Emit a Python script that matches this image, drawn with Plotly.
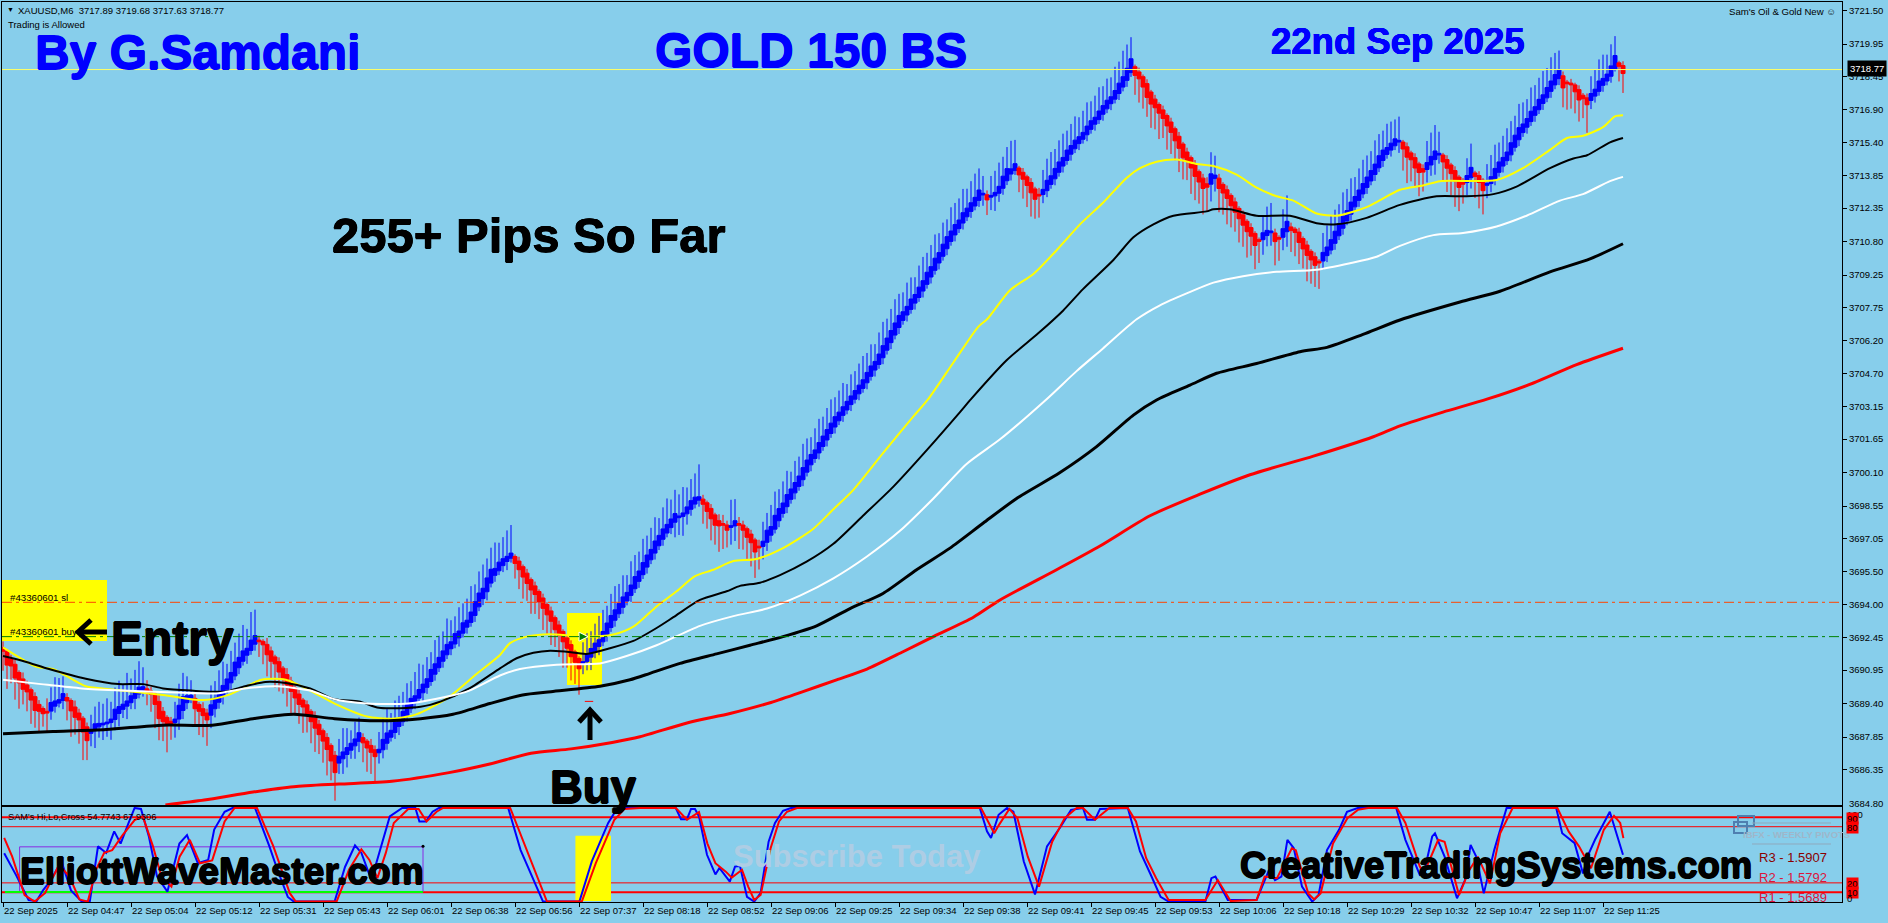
import plotly.graph_objects as go

# price of every bar, one row per tick interval (16 bars)
closes = [
    3691.9,3691.5,3691.3,3690.9,3690.6,3690.3,3690.1,3689.8,3689.4,3689.2,3689.05,3689.0,3689.25,3689.4,3689.5,3689.7,
    3689.6,3689.3,3689.0,3688.8,3688.4,3688.0,3688.1,3688.3,3688.4,3688.45,3688.5,3688.6,3688.9,3689.1,3689.25,3689.4,
    3689.6,3689.8,3690.0,3690.1,3690.0,3689.9,3689.6,3689.1,3688.8,3688.6,3688.5,3688.6,3689.0,3689.4,3689.6,3689.7,
    3689.4,3689.2,3689.0,3688.8,3689.1,3689.4,3689.7,3690.0,3690.3,3690.6,3691.0,3691.3,3691.6,3691.8,3692.1,3692.35,
    3692.3,3692.2,3691.9,3691.6,3691.4,3691.1,3690.8,3690.5,3690.2,3689.9,3689.6,3689.4,3689.1,3688.8,3688.5,3688.2,
    3687.9,3687.55,3687.1,3686.6,3686.8,3687.0,3687.2,3687.4,3687.6,3687.85,3687.7,3687.5,3687.3,3687.1,3687.2,3687.5,
    3687.8,3688.0,3688.3,3688.5,3688.8,3689.1,3689.4,3689.6,3689.85,3690.1,3690.35,3690.7,3691.0,3691.3,3691.6,3691.9,
    3692.1,3692.4,3692.6,3692.9,3693.1,3693.4,3693.8,3694.2,3694.5,3694.9,3695.3,3695.5,3695.75,3695.95,3696.1,3696.25,
    3696.05,3695.8,3695.5,3695.2,3694.9,3694.65,3694.35,3694.05,3693.75,3693.45,3693.1,3692.8,3692.5,3692.2,3691.85,3691.55,
    3691.25,3691.3,3691.5,3691.75,3692.0,3692.2,3692.5,3692.85,3693.2,3693.5,3693.8,3694.1,3694.35,3694.65,3695.0,3695.3,
    3695.65,3696.0,3696.3,3696.65,3696.95,3697.25,3697.5,3697.75,3698.0,3698.05,3698.15,3698.35,3698.6,3698.8,3698.9,3698.75,
    3698.5,3698.2,3697.9,3697.75,3697.7,3697.55,3697.6,3697.75,3697.7,3697.55,3697.3,3697.05,3696.7,3696.65,3696.8,3697.15,
    3697.4,3697.8,3698.15,3698.45,3698.8,3699.1,3699.4,3699.7,3700.05,3700.4,3700.7,3700.95,3701.25,3701.55,3701.85,3702.15,
    3702.45,3702.7,3702.95,3703.2,3703.45,3703.7,3703.95,3704.2,3704.5,3704.8,3705.05,3705.35,3705.7,3706.05,3706.4,3706.75,
    3707.1,3707.35,3707.6,3707.9,3708.15,3708.45,3708.75,3709.1,3709.4,3709.75,3710.05,3710.4,3710.75,3711.05,3711.35,3711.6,
    3711.9,3712.15,3712.4,3712.65,3712.95,3713.0,3712.85,3712.9,3713.0,3713.2,3713.55,3713.9,3714.05,3714.25,3714.05,3713.85,
    3713.6,3713.3,3713.0,3712.95,3713.1,3713.4,3713.65,3713.95,3714.25,3714.5,3714.8,3715.05,3715.3,3715.5,3715.7,3715.95,
    3716.2,3716.4,3716.65,3716.9,3717.15,3717.35,3717.6,3717.9,3718.2,3718.55,3718.95,3718.7,3718.5,3718.2,3717.8,3717.45,
    3717.2,3716.95,3716.7,3716.4,3716.1,3715.75,3715.4,3715.0,3714.75,3714.45,3714.1,3713.8,3713.5,3713.4,3713.7,3713.8,
    3713.5,3713.25,3713.0,3712.7,3712.4,3712.1,3711.8,3711.5,3711.25,3710.9,3710.85,3711.05,3711.2,3711.25,3711.0,3710.95,
    3711.2,3711.5,3711.4,3711.3,3711.0,3710.7,3710.4,3710.15,3709.9,3709.85,3710.1,3710.35,3710.65,3711.0,3711.35,3711.7,
    3712.0,3712.35,3712.65,3712.95,3713.25,3713.55,3713.85,3714.15,3714.5,3714.8,3715.0,3715.2,3715.4,3715.45,3715.25,3714.95,
    3714.75,3714.45,3714.2,3714.1,3714.3,3714.55,3714.8,3714.85,3714.65,3714.4,3714.15,3713.85,3713.55,3713.5,3713.7,3714.0,
    3713.9,3713.7,3713.4,3713.45,3713.65,3713.95,3714.25,3714.5,3714.75,3715.1,3715.45,3715.8,3716.05,3716.3,3716.6,3716.85,
    3717.15,3717.4,3717.7,3718.0,3718.3,3718.55,3718.2,3718.15,3718.1,3717.9,3717.6,3717.5,3717.3,3717.5,3717.7,3718.0,
    3718.2,3718.4,3718.7,3719.1,3719.0,3718.77,
]

# wick in the bar's direction (up on blue, down on red)
wick_long = [
    0.9,1.1,0.8,1.0,1.2,0.7,0.9,1.1,0.8,1.0,0.6,0.9,0.7,1.1,1.0,0.8,
    0.9,1.2,0.8,1.1,1.3,0.9,0.7,0.8,1.0,0.9,1.1,0.8,1.0,1.2,0.9,1.3,
    0.8,1.0,1.2,0.9,0.6,0.8,1.1,1.0,0.9,1.3,0.7,0.8,1.0,1.1,0.9,0.7,
    0.8,1.1,1.0,1.2,0.9,0.8,1.0,1.1,0.7,1.0,0.9,1.1,1.2,0.9,1.3,1.2,
    0.7,0.9,1.0,0.8,1.1,0.9,0.7,1.0,1.1,0.8,0.9,1.2,0.8,1.0,1.1,0.9,
    1.0,1.2,0.9,1.3,0.8,1.1,0.9,0.6,0.8,0.7,0.9,1.1,1.0,1.2,0.8,1.0,
    1.1,0.8,1.0,1.1,0.9,1.0,0.8,1.1,1.2,0.9,1.0,0.8,1.1,1.0,0.9,1.2,
    1.0,0.8,1.1,0.9,1.0,1.2,0.8,1.0,1.1,0.9,1.0,1.2,0.9,1.0,1.2,1.3,
    0.7,0.9,1.0,0.8,1.1,0.9,0.8,1.0,0.9,1.1,0.8,1.0,1.2,0.9,1.1,1.0,
    1.2,0.9,1.0,0.8,0.9,1.1,1.0,0.8,1.0,1.1,0.9,1.0,0.8,1.1,1.0,0.9,
    1.1,0.9,1.0,1.1,0.8,1.0,1.2,0.9,1.1,1.0,1.2,0.9,1.0,1.1,1.5,0.9,
    0.8,1.0,0.9,1.2,1.1,0.8,1.2,1.0,1.1,0.9,1.0,1.1,1.2,1.0,0.9,0.8,
    1.0,1.1,0.9,1.0,1.1,0.8,1.0,0.9,1.1,1.0,0.8,1.0,1.1,0.9,1.0,1.1,
    0.9,1.0,1.1,0.8,1.0,0.9,1.0,1.1,0.9,1.0,0.8,1.0,1.1,0.9,1.0,1.1,
    1.0,0.9,1.1,1.0,0.8,1.0,1.1,0.9,1.0,1.1,0.9,1.0,0.8,1.1,1.0,1.0,
    1.1,0.9,1.0,1.1,1.0,0.8,0.7,0.9,1.0,1.1,0.9,1.0,1.3,1.1,0.8,0.9,
    1.0,1.1,0.9,1.0,0.9,1.0,1.1,0.9,1.0,1.1,0.9,1.0,1.1,0.9,1.0,1.1,
    0.9,1.0,1.1,0.9,1.0,0.9,1.1,1.0,1.2,1.1,1.0,0.9,1.1,1.0,0.9,1.1,
    1.0,1.2,0.9,1.1,1.0,0.9,1.1,1.0,0.9,1.2,1.1,1.0,1.2,1.1,1.0,0.9,
    1.1,1.0,1.2,1.0,0.9,1.1,1.0,1.2,0.9,1.1,1.0,0.8,1.1,1.3,1.1,1.0,
    0.9,1.2,1.0,1.1,1.0,0.9,1.2,1.1,1.0,1.2,0.9,1.0,1.1,1.0,0.9,1.1,
    1.0,1.1,0.9,1.0,1.1,1.0,0.9,1.1,1.0,0.9,1.1,1.0,0.9,1.1,1.0,1.2,
    1.0,0.9,1.1,0.9,1.0,1.1,1.2,1.0,0.9,1.1,1.0,1.2,1.1,0.9,0.8,1.1,
    1.0,1.2,1.1,0.9,1.0,1.1,0.9,1.0,1.1,1.0,0.9,1.1,1.0,0.9,1.1,1.0,
    1.0,1.1,0.9,1.1,1.0,0.9,0.9,1.2,1.1,1.0,1.0,0.9,1.3,0.8,0.9,1.0,
    1.1,0.9,1.0,0.9,0.7,0.9,
]

# wick on the other side
wick_short = [
    0.3,0.1,0.2,0.2,0.1,0.3,0.2,0.1,0.2,0.2,0.1,0.6,0.4,0.3,0.2,0.4,
    0.2,0.1,0.3,0.2,0.1,0.2,0.6,0.8,0.5,0.7,0.6,0.8,0.5,0.6,0.4,0.6,
    0.3,0.5,0.2,0.3,0.4,0.2,0.1,0.3,0.2,0.1,0.2,0.7,0.5,0.4,0.3,0.2,
    0.2,0.1,0.3,0.2,0.6,0.4,0.3,0.4,0.2,0.3,0.2,0.3,0.2,0.4,0.2,0.3,
    0.2,0.1,0.3,0.2,0.1,0.2,0.1,0.3,0.2,0.1,0.2,0.1,0.2,0.1,0.3,0.2,
    0.1,0.2,0.1,0.2,0.5,0.7,0.6,0.4,0.6,0.5,0.2,0.1,0.3,0.2,0.5,0.4,
    0.3,0.2,0.3,0.4,0.2,0.3,0.2,0.3,0.2,0.4,0.3,0.2,0.3,0.2,0.3,0.2,
    0.3,0.2,0.4,0.2,0.3,0.2,0.3,0.2,0.3,0.4,0.2,0.3,0.2,0.3,0.4,0.2,
    0.1,0.2,0.1,0.2,0.1,0.2,0.1,0.2,0.1,0.2,0.1,0.2,0.1,0.1,0.2,0.1,
    0.1,0.5,0.4,0.6,0.3,0.4,0.2,0.3,0.2,0.3,0.2,0.3,0.2,0.3,0.2,0.3,
    0.2,0.3,0.2,0.3,0.2,0.3,0.2,0.3,0.7,0.8,0.9,0.5,0.3,0.2,0.3,0.2,
    0.1,0.2,0.1,0.3,0.4,0.2,0.8,0.7,0.3,0.2,0.1,0.2,0.1,0.3,0.6,0.4,
    0.3,0.2,0.3,0.2,0.3,0.2,0.3,0.2,0.3,0.2,0.3,0.2,0.3,0.2,0.3,0.2,
    0.3,0.2,0.3,0.2,0.3,0.2,0.3,0.2,0.3,0.2,0.3,0.2,0.3,0.2,0.3,0.2,
    0.3,0.2,0.3,0.2,0.3,0.2,0.3,0.2,0.3,0.2,0.3,0.2,0.3,0.2,0.3,0.2,
    0.3,0.2,0.3,0.2,0.3,0.5,0.2,0.6,0.7,0.4,0.3,0.2,0.3,0.2,0.1,0.2,
    0.1,0.2,0.1,0.3,0.4,0.3,0.2,0.3,0.2,0.3,0.2,0.3,0.2,0.3,0.2,0.3,
    0.2,0.3,0.2,0.3,0.2,0.3,0.2,0.3,0.2,0.3,0.2,0.1,0.2,0.1,0.2,0.1,
    0.2,0.1,0.2,0.1,0.2,0.1,0.2,0.1,0.2,0.1,0.2,0.1,0.2,0.3,0.8,0.6,
    0.2,0.1,0.2,0.1,0.2,0.1,0.2,0.1,0.2,0.1,0.1,0.7,0.5,0.6,0.2,0.1,
    0.6,0.7,0.2,0.1,0.2,0.1,0.2,0.1,0.2,0.1,0.4,0.3,0.2,0.3,0.2,0.3,
    0.2,0.3,0.2,0.3,0.2,0.3,0.2,0.3,0.2,0.3,0.2,0.3,0.2,0.5,0.1,0.2,
    0.1,0.2,0.1,0.2,0.6,0.5,0.7,0.4,0.1,0.2,0.1,0.2,0.1,0.2,0.6,0.5,
    0.1,0.2,0.1,0.6,0.4,0.3,0.2,0.3,0.2,0.3,0.2,0.3,0.2,0.3,0.2,0.3,
    0.2,0.3,0.2,0.3,0.2,0.3,0.2,0.1,0.2,0.1,0.2,0.1,0.2,0.4,0.3,0.2,
    0.3,0.2,0.3,0.1,0.1,0.2,
]

ma_yellow = [
    (0,3692.0),(8.4,3691.1),(12.5,3691.0),(20.7,3690.2),(24.8,3690.1),(40,3689.8),(50,3689.56),(56.4,3689.8),
    (64.6,3690.5),(70.7,3690.5),(77.8,3689.9),(82.9,3689.4),(91,3688.8),(97.2,3688.7),(103.3,3688.9),(111.5,3689.7),
    (118.6,3690.8),(124.25,3691.65),(126.75,3692.2),(130.9,3692.5),(135,3692.6),(138.4,3692.6),(145,3692.5),(152.6,3692.6),
    (157.6,3692.96),(163.4,3693.9),(168.4,3694.6),(173,3695.3),(177.6,3695.6),(182.6,3696),(188.4,3696.1),(195,3696.6),
    (202.6,3697.5),(207.6,3698.4),(212.6,3699.3),(220,3701),(227.6,3702.7),(231.3,3703.5),(237.6,3705.2),(243.8,3706.85),
    (246,3707.2),(251.75,3708.55),(257.6,3709.3),(263.4,3710.4),(269.25,3711.6),(275,3712.6),(280.9,3713.75),(284.25,3714.2),
    (288.4,3714.5),(293.4,3714.6),(298.4,3714.4),(302.6,3714.3),(308.4,3713.9),(313.4,3713.3),(318.4,3712.9),(322.6,3712.7),
    (328.4,3712.1),(333.4,3712),(340.9,3712.4),(349.25,3713.2),(355,3713.4),(359.25,3713.6),(373.4,3713.65),(380,3714.2),
    (386.75,3715.05),(391,3715.6),(395,3715.7),(400,3716.1),(403,3716.6),(405,3716.65),
]
ma_black_thin = [
    (0,3691.6),(5.4,3691.35),(11.5,3691.0),(20.7,3690.55),(28.8,3690.3),(35,3690.3),(40,3690.1),(47,3690.0),
    (55.4,3689.95),(60.5,3690.2),(65.6,3690.4),(70.7,3690.35),(76.8,3690.1),(82.9,3689.6),(89,3689.5),(94,3689.2),
    (104.4,3689.25),(109.5,3689.5),(116.6,3690.1),(124.25,3691.03),(128.4,3691.5),(132.6,3691.75),(136.75,3691.85),(140.9,3691.8),
    (145.9,3691.7),(151.75,3691.96),(157.6,3692.3),(163.4,3692.9),(167.6,3693.4),(174.25,3694.2),(180.9,3694.6),(184.25,3694.85),
    (189.25,3695),(194.25,3695.35),(200.9,3695.97),(207.6,3696.8),(215,3698.1),(222.6,3699.45),(231,3701.15),(239.25,3702.9),
    (242,3703.5),(250.9,3705.3),(258.8,3706.55),(265,3707.6),(270,3708.6),(277.6,3709.95),(282.6,3711),(287.6,3711.6),
    (292.6,3712),(300.9,3712.2),(302.6,3712.3),(306.75,3712.3),(313.4,3712),(321.75,3712),(328.4,3711.65),(333.4,3711.6),
    (340.9,3711.9),(349.25,3712.5),(358.4,3712.9),(365.9,3712.9),(372.6,3713.0),(378.4,3713.35),(386.75,3714.2),(392.6,3714.65),
    (396,3714.8),(401.75,3715.4),(405,3715.6),
]
ma_white = [
    (0,3690.5),(9.5,3690.3),(19.7,3690.1),(29.9,3690),(45.2,3689.9),(53.3,3689.87),(60.5,3690.1),(68.6,3690.2),
    (76.8,3690),(82.9,3689.6),(91,3689.4),(101.3,3689.4),(110.5,3689.7),(116.6,3690),(124.25,3690.7),(129.25,3691),
    (138.4,3691.2),(149.25,3691.26),(155.9,3691.6),(163.4,3692.1),(174.25,3693),(182.6,3693.45),(191,3693.8),(199.25,3694.4),
    (207.6,3695.2),(215.9,3696.2),(224.25,3697.4),(232.6,3698.9),(240.9,3700.5),(249.25,3701.64),(260.9,3703.5),(268.4,3704.8),
    (275,3705.85),(283.4,3707.2),(289.25,3707.85),(295.9,3708.4),(302.6,3708.9),(310,3709.2),(318.4,3709.4),(328.4,3709.5),
    (336.75,3709.8),(343.4,3710.1),(349.25,3710.6),(357.6,3711.1),(365,3711.2),(373.4,3711.5),(380.9,3712),(389.25,3712.7),
    (395,3713),(401.75,3713.6),(405,3713.8),
]
ma_black_thick = [
    (0,3688.0),(12.5,3688.1),(25.8,3688.2),(40,3688.4),(52.3,3688.4),(62.5,3688.7),(72.7,3688.9),(82.9,3688.7),
    (94,3688.6),(104.4,3688.7),(112.5,3688.9),(121.7,3689.4),(129.9,3689.8),(137,3689.95),(149.25,3690.2),(156.75,3690.5),
    (161.75,3690.8),(169.25,3691.26),(178.4,3691.7),(186.75,3692.1),(195,3692.5),(203.4,3693.0),(211.75,3693.8),(220,3694.5),
    (228.4,3695.6),(236.75,3696.6),(245,3697.75),(253.4,3698.9),(264.25,3700.1),(273.4,3701.3),(282.6,3702.76),(288.4,3703.46),
    (296.75,3704.15),(303.4,3704.7),(313.4,3705.15),(324.25,3705.7),(331,3705.9),(340,3706.5),(349.25,3707.17),(364.25,3708),
    (374.25,3708.5),(386.75,3709.4),(396.75,3710),(405,3710.7),
]
ma_red = [
    (40.6,3684.7),(50.3,3684.93),(62.5,3685.3),(72.7,3685.55),(84,3685.67),(97.2,3685.8),(111.5,3686.2),(121.7,3686.6),
    (132,3687.1),(142,3687.3),(152.3,3687.6),(159.25,3687.86),(171,3688.5),(182,3688.95),(192,3689.45),(200,3689.95),
    (208.4,3690.5),(216,3691),(225,3691.8),(232.6,3692.5),(242.6,3693.4),(249.25,3694.2),(263.4,3695.6),(274.25,3696.7),
    (286.75,3698.1),(299.25,3699.1),(311.75,3700),(327.6,3700.86),(342.6,3701.76),(349.25,3702.26),(360,3702.9),(371,3703.5),
    (382.6,3704.25),(393.4,3705.1),(405,3705.86),
]

stoch_blue = [
    (0.3,51.7),(3.3,28),(6.4,1.7),(8.4,0.5),(10,12),(12,23),(14.6,43),(17,12),(19.7,0),(21.7,0),(23.75,59),(25.8,52),
    (27.8,75),(29.4,62),(31.4,84),(32.9,100),(34.5,99),(36.5,69),(38.5,27),(41.1,10.6),(44.1,62),(46,71),(48.7,41),(51.3,44.5),
    (52.8,77),(55.4,96),(57.4,100),(63,100),(66.6,59),(68.6,34),(71.2,5),(72.7,0),(82.9,0),(85.5,37),(88,60),(89.6,52),
    (92.1,23),(94.7,62),(96.7,91),(99.8,100),(103.1,100),(104.1,85.6),(105.7,85.6),(107.4,96),(109,100),(126.3,100),(129.4,55),(135,0),
    (144.1,0),(147.2,43),(151.3,84),(153.3,98),(155.4,100),(168.2,100),(169.5,88),(171,88),(172,99),(173,99),(174,91),(176,50),
    (178.1,29),(179.1,36),(181.7,21.3),(183,37.4),(184.25,38),(186,5),(187.8,0),(189.4,9),(191.4,64),(193,84),(195,97),(197,100),
    (244.2,100),(246,75),(247,68),(248.9,92.8),(251,100),(252.6,96),(255.2,42.8),(258,7.7),(261,59),(264.4,80),(267,98),(270,100),
    (271,87.4),(273,87.4),(274.25,99),(281.2,100),(284.25,53.5),(286.8,30),(289.4,5),(291.4,0),(300.6,0),(302.1,25),(303.1,26.7),(306.2,1.7),
    (313.4,1.7),(316.5,33.8),(318,23),(319.6,26.7),(321.1,66),(322.7,57),(324.75,16),(327.3,0),(328.9,7),(331,55),(334,76.7),(336,96),
    (338.7,100),(348.3,100),(350.6,66),(354.2,28.5),(355.2,30),(357.3,69.6),(358,73),(360.4,48),(363.5,3.5),(365.5,23),(366.9,60.6),(368.3,48),
    (370.2,8.8),(372.8,55),(375.9,100),(388.3,100),(389.8,73),(392.9,62.4),(395,30),(396.5,51.7),(398,66),(401.7,96),(405,50),
]
stoch_red = [
    (0.3,68),(2.3,48),(5.4,7),(7.9,0),(10.5,9),(14,39),(16.6,27),(19.1,2.4),(21.2,0),(23.25,34),(25.3,52),(27.3,55),
    (29.9,71),(32.9,87),(34.95,91),(37.5,59),(39.6,26.7),(42.1,16),(44.15,48),(46.7,66),(49.25,41),(52.3,44),(55.4,85.6),(57.9,100),
    (63.5,100),(67.6,59),(71.7,9),(73.2,0),(83.4,0),(86.5,34),(89.6,56),(91.6,44.5),(93.6,25),(95.7,52),(97.7,84),(101.3,99),
    (103.9,99),(105.9,85.6),(108.4,96),(110,100),(126.8,100),(130.9,55),(136,0),(144.7,0),(148.2,41),(152.8,87),(155.4,99),(159.25,100),
    (168.2,100),(171,87.4),(174,95.6),(176.1,62),(178.1,41),(180.7,32),(182.2,25.6),(184.75,34),(186.3,16),(187.8,1.7),(189.4,7),(191.9,57),
    (194,85.6),(196,96),(198.5,100),(244.5,100),(247.8,73),(249,82),(251.6,99),(253.6,89),(256.2,48),(259,16),(262.3,64),(265.4,89),
    (268.4,100),(270,100),(273,87.4),(276.6,100),(281.2,100),(283.25,85.6),(285.8,46.3),(288.3,25),(291.4,1.7),(300.6,1.7),(303.7,23),(306.9,0.6),
    (313.4,1.7),(315.4,26.7),(318.5,25),(322.2,57),(323.2,55),(326.3,8.8),(327.8,2.4),(329.4,8.8),(332.5,62),(336.1,89),(338.7,98),(341.3,100),
    (348.5,100),(350.6,84),(354.2,37.4),(355.2,30),(358.8,66),(360.4,64),(364,7),(366.6,33.8),(368.7,48),(371.75,19.5),(374.3,73),(377.4,100),
    (388.6,100),(391.4,75),(394,59),(397,35.6),(400.2,76.7),(402.75,91.7),(404.3,84),(405.1,67.8),
]

price_ticks = [3721.50,3719.95,3718.45,3716.90,3715.40,3713.85,3712.35,3710.80,3709.25,3707.75,3706.20,3704.70,3703.15,
               3701.65,3700.10,3698.55,3697.05,3695.50,3694.00,3692.45,3690.95,3689.40,3687.85,3686.35,3684.80]
time_labels = ["22 Sep 2025","22 Sep 04:47","22 Sep 05:04","22 Sep 05:12","22 Sep 05:31","22 Sep 05:43","22 Sep 06:01",
               "22 Sep 06:38","22 Sep 06:56","22 Sep 07:37","22 Sep 08:18","22 Sep 08:52","22 Sep 09:06","22 Sep 09:25",
               "22 Sep 09:34","22 Sep 09:38","22 Sep 09:41","22 Sep 09:45","22 Sep 09:53","22 Sep 10:06","22 Sep 10:18",
               "22 Sep 10:29","22 Sep 10:32","22 Sep 10:47","22 Sep 11:07","22 Sep 11:25"]
time_bars = list(range(0, 401, 16))
pane_levels = [90, 80, 20, 10]
sl_price = 3694.09
entry_price = 3692.5
last_price = 3718.77

SKY = "#87ceeb"
PLAIN = "Liberation Sans"


def px_x(x):
    return (x - 2) / 1840


def px_y(y):
    return (902 - y) / 900


# bodies overlap the neighbouring bars, as the bars in the picture do
opens = []
tops = []
highs = []
lows = []
prev = closes[0] + 0.1
for c, lg, sh in zip(closes, wick_long, wick_short):
    step = c - prev
    o, t = c - 0.8 * step, c + 0.8 * step
    up, down = (lg, sh) if step > 0 else (sh, lg)
    opens.append(o)
    tops.append(t)
    highs.append(max(o, t) + up)
    lows.append(min(o, t) - down)
    prev = c

fig = go.Figure()


def ma(points, color, width, yaxis="y", xaxis="x", shape="spline"):
    fig.add_trace(go.Scatter(x=[p[0] for p in points], y=[p[1] for p in points], mode="lines",
                             line=dict(color=color, width=width, shape=shape, smoothing=0.7 if shape == "spline" else None),
                             hoverinfo="skip", xaxis=xaxis, yaxis=yaxis))


def level(price, color, dash, width=1):
    fig.add_shape(type="line", xref="x domain", x0=0, x1=1, yref="y", y0=price, y1=price,
                  line=dict(color=color, width=width, dash=dash), layer="above")


# yellow boxes behind the price and the indicator
fig.add_shape(type="rect", x0=-0.25, x1=26, y0=3692.3, y1=3695.12, fillcolor="#ffff00", line_width=0, layer="below")
fig.add_shape(type="rect", x0=141, x1=149.75, y0=3690.26, y1=3693.59, fillcolor="#ffff00", line_width=0, layer="below")
fig.add_shape(type="rect", xref="x2", yref="y2", x0=143.1, x1=152, y0=0.6, y1=70.3, fillcolor="#ffff00", line_width=0, layer="below")

ma(ma_yellow, "#ffff00", 2)
fig.add_trace(go.Candlestick(x=list(range(len(closes))), open=opens, high=highs, low=lows, close=tops,
                             increasing=dict(line=dict(color="#0000ff", width=1), fillcolor="#0000ff"),
                             decreasing=dict(line=dict(color="#ff0000", width=1), fillcolor="#ff0000"),
                             whiskerwidth=0, hoverinfo="skip"))
ma(ma_black_thin, "#000000", 2)
ma(ma_white, "#ffffff", 2)
ma(ma_black_thick, "#000000", 3)
ma(ma_red, "#ff0000", 3)

level(last_price, "#ffff66", "solid")
level(sl_price, "#ff4500", "10px,4px,3px,4px")
level(entry_price, "#008000", "10px,4px,3px,4px")

# entry marker and small tick under the buy bar
fig.add_trace(go.Scatter(x=[146.25], y=[entry_price], mode="markers", hoverinfo="skip",
                         marker=dict(symbol="arrow-right", size=9, color="#008000", line=dict(color="#ffffff", width=1))))
fig.add_trace(go.Scatter(x=[146.5], y=[3689.5], mode="markers", hoverinfo="skip",
                         marker=dict(symbol="line-ew", size=6, line=dict(color="#ff0000", width=1))))

# indicator pane
for v in pane_levels:
    fig.add_shape(type="line", xref="x2 domain", x0=0, x1=1, yref="y2", y0=v, y1=v,
                  line=dict(color="#ff0000", width=2 if v in (90, 10) else 1), layer="below")
fig.add_shape(type="rect", xref="x2", yref="y2", x0=4.15, x1=105, y0=10.3, y1=58.5,
              line=dict(color="#8a2be2", width=1), layer="below")
fig.add_trace(go.Scatter(x=[0.5, 105], y=[10.3, 10.3], mode="lines", line=dict(color="#00ff00", width=2),
                         hoverinfo="skip", xaxis="x2", yaxis="y2"))
fig.add_trace(go.Scatter(x=[105], y=[59], mode="markers", marker=dict(color="#000000", size=3), hoverinfo="skip",
                         xaxis="x2", yaxis="y2"))
ma(stoch_blue, "#0000ff", 2, "y2", "x2", "linear")
ma(stoch_red, "#ff0000", 2, "y2", "x2", "linear")

# pivots logo, drawn in page pixels
for x0, y0, x1, y1 in [(1738, 816, 1754, 826), (1734, 822, 1747, 833)]:
    fig.add_shape(type="rect", xref="paper", yref="paper", x0=px_x(x0), x1=px_x(x1), y0=px_y(y1), y1=px_y(y0),
                  line=dict(color="#4f7fb0", width=2))
for y in (823, 844):
    fig.add_shape(type="line", xref="paper", yref="paper", x0=px_x(1752), x1=px_x(1831), y0=px_y(y), y1=px_y(y),
                  line=dict(color="#8fa9bd", width=1))


def stroke_path(points, width=5):
    path = "M " + " L ".join(f"{px_x(x):.5f},{px_y(y):.5f}" for x, y in points)
    fig.add_shape(type="path", xref="paper", yref="paper", path=path, line=dict(color="#000000", width=width))


# hand drawn arrows next to Entry and Buy
stroke_path([(107, 632), (78, 632)])
stroke_path([(91, 620), (78, 632), (91, 644)])
stroke_path([(590, 740), (590, 711)])
stroke_path([(579, 722), (590, 710), (601, 722)])


def note(text, x, y, size, color="#000000", bold=False, family=PLAIN, anchor="left", bg=None, pad=0, heavy=0):
    label = f"<b>{text}</b>" if bold else text
    shadow = "none"
    if heavy:
        shadow = f"{heavy}px 0 0 {color},-{heavy}px 0 0 {color},0 {heavy}px 0 {color},0 -{heavy}px 0 {color}"
    fig.add_annotation(text=label, xref="paper", yref="paper", x=px_x(x), y=px_y(y), showarrow=False,
                       xanchor=anchor, yanchor="middle", bgcolor=bg, borderpad=pad,
                       font=dict(family=family, size=size, color=color, shadow=shadow))


note("▼", 6, 10, 7)
note("XAUUSD,M6  3717.89 3719.68 3717.63 3718.77", 17, 10.5, 9.5)
note("Trading is Allowed", 7, 24, 9.5)
note("By G.Samdani", 34, 52, 48, "#0000ff", True, heavy=0.6)
note("GOLD 150 BS", 654, 50, 48, "#0000ff", True, heavy=0.6)
note("22nd Sep 2025", 1270, 41, 36.5, "#0000ff", True, heavy=0.4)
note("255+ Pips So Far", 331, 235, 49, bold=True, heavy=0.5)
note("Sam's Oil &amp; Gold New ☺", 1837, 11, 9.6, anchor="right")
note("#43360601 sl", 9, 597, 9.7)
note("#43360601 buy", 9, 631, 9.7)
note("Entry", 110, 638, 48, bold=True, heavy=0.8)
note("Buy", 549, 787, 45.5, bold=True, heavy=0.8)
note("SAM's Hi,Lo,Cross 54.7743 67.9306", 7, 817, 9.2)
note("ElliottWaveMaster.com", 19, 871, 37.2, bold=True, heavy=0.8)
note("Subscribe Today", 732, 856, 31, "#aecde4", True)
note("CreativeTradingSystems.com", 1239, 865, 36.6, bold=True, heavy=0.8)
note("IBFX - WEEKLY PIVOTS", 1742, 834, 9.5, "#9fb6c9", True)
note("R3 - 1.5907", 1758, 857, 13, "#8b0000")
note("R2 - 1.5792", 1758, 877, 13, "#dc143c")
note("R1 - 1.5689", 1758, 897, 13, "#dc143c")
note("3718.77", 1847, 69, 9.5, "#ffffff", bg="#000000", pad=2)
note("3684.80", 1848, 803, 9.5)
for txt, y in [("100", 814), ("90", 818.5), ("80", 827.5), ("20", 883.5), ("10", 892.5), ("0", 898)]:
    note(txt, 1846, y, 9.5, bg=None if txt in ("100", "0") else "#ff0000")

line_style = dict(showline=True, linecolor="#000000", linewidth=1, mirror=True, showgrid=False, zeroline=False)
fig.update_layout(
    width=1888, height=923, autosize=False, margin=dict(l=2, r=46, t=2, b=21),
    paper_bgcolor=SKY, plot_bgcolor=SKY, showlegend=False, boxgap=0, boxgroupgap=0,
    font=dict(family=PLAIN, color="#000000"),
    xaxis=dict(domain=[0, 1], range=[-0.25, 459.75], anchor="y", showticklabels=False, ticks="",
               rangeslider=dict(visible=False), **line_style),
    xaxis2=dict(domain=[0, 1], range=[-0.25, 459.75], anchor="y2", matches="x", tickmode="array",
                tickvals=time_bars, ticktext=time_labels, ticks="outside", ticklen=4, tickcolor="#000000",
                ticklabelposition="outside right", tickfont=dict(size=9.5, family=PLAIN), tickangle=0, **line_style),
    yaxis=dict(domain=[px_y(805), 1], range=[3684.70, 3721.90], anchor="x", side="right", tickmode="array",
               tickvals=price_ticks[:-1], ticktext=[f"{p:.2f}" for p in price_ticks[:-1]], ticks="outside", ticklen=4,
               tickcolor="#000000", tickfont=dict(size=9.5, family=PLAIN), **line_style),
    yaxis2=dict(domain=[0, px_y(807)], range=[-0.43, 101.05], anchor="x2", side="right", showticklabels=False,
                ticks="", **line_style),
)

fig.write_html("out.html", config=dict(displayModeBar=False),
               post_script="document.body.style.margin='0';document.documentElement.style.overflow='hidden';")
